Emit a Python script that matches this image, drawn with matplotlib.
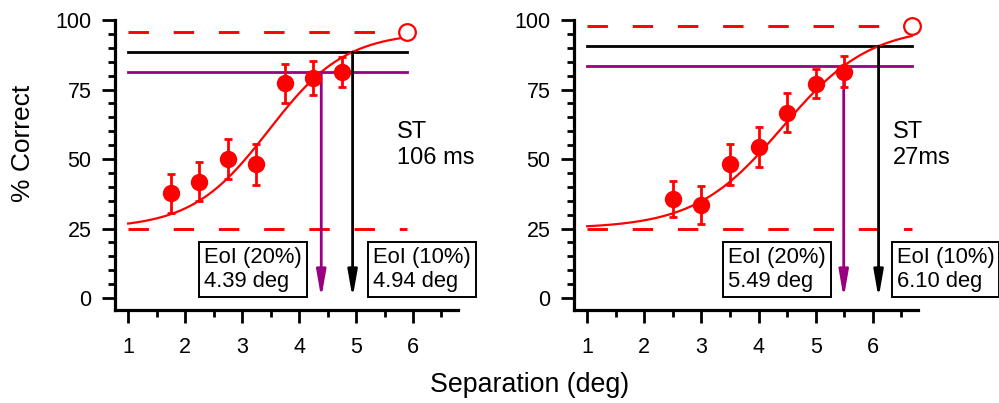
import numpy as np
import matplotlib
matplotlib.use("Agg")
import matplotlib.pyplot as plt
from matplotlib.ticker import MultipleLocator

plt.rcParams['font.family'] = ['Liberation Sans', 'DejaVu Sans']

# ---------------- data ----------------
left_x = [1.75, 2.25, 2.75, 3.25, 3.75, 4.25, 4.75]
left_y = [37.6, 41.8, 50.0, 48.1, 77.3, 79.2, 81.4]
left_err = [7.0, 7.0, 7.2, 7.4, 7.0, 6.0, 5.4]

right_x = [2.5, 3.0, 3.5, 4.0, 4.5, 5.0, 5.5]
right_y = [35.6, 33.5, 48.1, 54.3, 66.6, 77.0, 81.4]
right_err = [6.5, 6.9, 7.4, 7.2, 7.0, 5.2, 5.6]

# fitted psychometric function parameters (logistic): lower, upper, midpoint, spread
left_fit = dict(lower=25.0, upper=95.7, mid=3.468, spread=0.676, end=5.9)
right_fit = dict(lower=25.0, upper=97.8, mid=4.415, spread=0.763, end=6.68)

left_eoi = dict(x20=4.39, y20=81.3, x10=4.94, y10=88.5)
right_eoi = dict(x20=5.49, y20=83.5, x10=6.10, y10=90.6)

left_st = "ST\n106 ms"
right_st = "ST\n27ms"

left_box20 = "EoI (20%)\n4.39 deg"
left_box10 = "EoI (10%)\n4.94 deg"
right_box20 = "EoI (20%)\n5.49 deg"
right_box10 = "EoI (10%)\n6.10 deg"

yticks = [0, 25, 50, 75, 100]
xticks = [1, 2, 3, 4, 5, 6]

RED = '#FF0000'
PURPLE = '#990080'

fig = plt.figure(figsize=(9.99, 4.03), dpi=100)
ax_l = fig.add_axes([115/999, 1-310/403, (458-115)/999, (310-20)/403])
ax_r = fig.add_axes([574/999, 1-310/403, (918-574)/999, (310-20)/403])


def panel(ax, xs, ys, errs, fit, eoi, st, st_x, box20, b20x, box10, b10x):
    ax.set_xlim(0.77, 6.79)
    ax.set_ylim(-4.3, 100)
    for s in ['top', 'right']:
        ax.spines[s].set_visible(False)
    for s in ['left', 'bottom']:
        ax.spines[s].set_linewidth(2.3)
    ax.set_xticks(xticks)
    ax.set_yticks(yticks)
    ax.xaxis.set_minor_locator(MultipleLocator(0.5))
    ax.yaxis.set_minor_locator(MultipleLocator(5))
    ax.tick_params(which='major', length=9.5, width=2.0, labelsize=15.5, direction='out')
    ax.tick_params(which='minor', length=5, width=2.0, direction='out')
    ax.tick_params(axis='x', which='major', pad=10)
    ax.tick_params(axis='y', which='major', pad=7.5)

    # dashed asymptotes
    dash = (0, (7.0, 8.5))
    ax.plot([1, fit['end']], [fit['lower'], fit['lower']], color=RED, lw=2.1, linestyle=dash)
    ax.plot([1, fit['end']], [fit['upper'], fit['upper']], color=RED, lw=2.1, linestyle=dash)

    # threshold lines
    ax.plot([1, fit['end']], [eoi['y10'], eoi['y10']], color='black', lw=2.0)
    ax.plot([1, fit['end']], [eoi['y20'], eoi['y20']], color=PURPLE, lw=2.0)

    # fit curve
    xc = np.linspace(1, fit['end'], 300)
    yc = fit['lower'] + (fit['upper'] - fit['lower']) / (1 + np.exp(-(xc - fit['mid']) / fit['spread']))
    ax.plot(xc, yc, color=RED, lw=1.6)

    # arrows
    for xv, yv, col in [(eoi['x20'], eoi['y20'], PURPLE), (eoi['x10'], eoi['y10'], 'black')]:
        ax.annotate('', xy=(xv, 0), xytext=(xv, yv),
                    arrowprops=dict(arrowstyle='-|>,head_length=1.6,head_width=0.28',
                                    color=col, lw=2.0, shrinkA=0, shrinkB=0))

    # data
    ax.errorbar(xs, ys, yerr=errs, fmt='o', color=RED, ms=11.5, elinewidth=2.0,
                capsize=3, capthick=2.0, zorder=5)
    ax.plot([fit['end']], [fit['upper']], 'o', ms=12, mfc='white', mec=RED, mew=1.6,
            clip_on=False, zorder=6)

    # texts
    ax.text(st_x, 63.5, st, fontsize=17, ha='left', va='top', linespacing=1.22)
    for txt, bx in [(box20, b20x), (box10, b10x)]:
        ax.text(bx, 2.0, txt, fontsize=15.8, ha='left', va='bottom', linespacing=1.2,
                clip_on=False,
                bbox=dict(boxstyle='square,pad=0.22', fc='white', ec='black', lw=1.4))


panel(ax_l, left_x, left_y, left_err, left_fit, left_eoi, left_st, 5.72,
      left_box20, 2.333, left_box10, 5.30)
panel(ax_r, right_x, right_y, right_err, right_fit, right_eoi, right_st, 6.35,
      right_box20, 3.465, right_box10, 6.42)

fig.text(0.023, 0.644, '% Correct', rotation=90, fontsize=19, ha='center', va='center')
fig.text(0.530, 0.045, 'Separation (deg)', fontsize=19.3, ha='center', va='center')

fig.savefig('out.png', dpi=100)
